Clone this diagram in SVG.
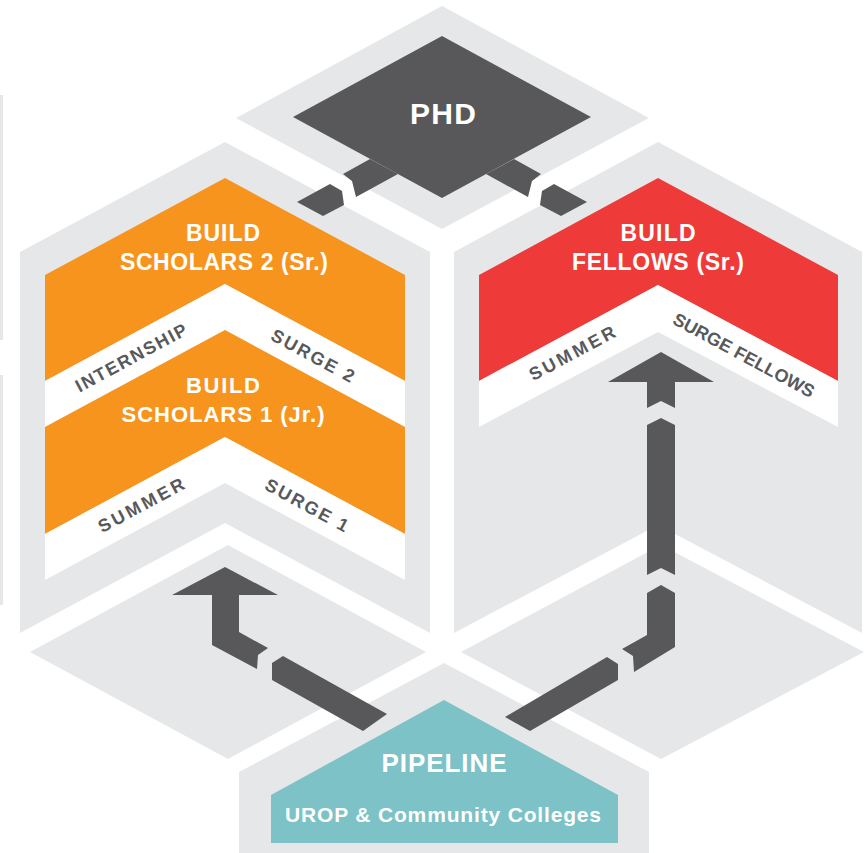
<svg xmlns="http://www.w3.org/2000/svg" width="867" height="853" viewBox="0 0 867 853">
<style>
.lg{fill:#e6e7e8}
.dk{fill:#58585a}
.or{fill:#f7941d}
.rd{fill:#ee3b39}
.tl{fill:#7cc2c7}
.wh{fill:#ffffff}
.ttl{font-family:"Liberation Sans",Arial,sans-serif;font-weight:bold;fill:#ffffff;text-anchor:middle}
.lbl{font-family:"Liberation Sans",Arial,sans-serif;font-weight:bold;fill:#58595b;text-anchor:middle;font-size:18px}
</style>
<rect width="867" height="853" fill="#ffffff"/>
<g id="background">
  <rect class="lg" x="0" y="95" width="3" height="245"/>
  <rect class="lg" x="0" y="375" width="3" height="230"/>
  <polygon class="lg" points="442,6 649,118 442,229 236,118"/>
  <polygon class="lg" points="20,252 225,142 430,252 430,633 225,523 20,633"/>
  <polygon class="lg" points="454,252 658,142 862,252 862,633 658,525 454,633"/>
  <polygon class="lg" points="30,652 228,545 426,652 228,759"/>
  <polygon class="lg" points="461,652 661,545 864,652 661,759"/>
  <polygon class="lg" points="444,663 649,772 649,853 239,853 239,772"/>
</g>
<g id="phd">
  <polygon class="dk" points="442,36 591,117 442,198 293,117"/>
  <text class="ttl" x="443" y="124" font-size="30" textLength="66" lengthAdjust="spacing">PHD</text>
</g>
<g id="build-scholars-2">
  <polygon class="or" points="225,178 405,275 405,381 225,284 45,381 45,275"/>
  <text class="ttl" x="223" y="241" font-size="23" textLength="74" lengthAdjust="spacing">BUILD</text>
  <text class="ttl" x="224" y="270" font-size="23" textLength="208" lengthAdjust="spacing">SCHOLARS 2 (Sr.)</text>
</g>
<g id="internship-surge-2">
  <polygon class="wh" points="225,284 405,381 405,427 225,330 45,427 45,381"/>
  <text class="lbl" transform="translate(131,357.5) rotate(-28.4)" x="0" y="6.5" textLength="124" lengthAdjust="spacing">INTERNSHIP</text>
  <text class="lbl" transform="translate(313,355.5) rotate(28.4)" x="0" y="6.5" textLength="92" lengthAdjust="spacing">SURGE 2</text>
</g>
<g id="build-scholars-1">
  <polygon class="or" points="225,330 405,427 405,534 225,437 45,534 45,427"/>
  <text class="ttl" x="223" y="393" font-size="22" textLength="74" lengthAdjust="spacing">BUILD</text>
  <text class="ttl" x="223" y="422" font-size="22" textLength="203" lengthAdjust="spacing">SCHOLARS 1 (Jr.)</text>
</g>
<g id="summer-surge-1">
  <polygon class="wh" points="225,437 405,534 405,580 225,483 45,580 45,534"/>
  <text class="lbl" transform="translate(141,505) rotate(-28.4)" x="0" y="6.5" textLength="95" lengthAdjust="spacing">SUMMER</text>
  <text class="lbl" transform="translate(307,505) rotate(28.4)" x="0" y="6.5" textLength="92" lengthAdjust="spacing">SURGE 1</text>
</g>
<g id="build-fellows">
  <polygon class="rd" points="658,178 838,275 838,381 658,285 479,381 479,275"/>
  <text class="ttl" x="658" y="241" font-size="23" textLength="75" lengthAdjust="spacing">BUILD</text>
  <text class="ttl" x="658" y="270" font-size="23" textLength="172" lengthAdjust="spacing">FELLOWS (Sr.)</text>
</g>
<g id="summer-surge-fellows">
  <polygon class="wh" points="658,285 838,381 838,427 658,332 479,427 479,381"/>
  <text class="lbl" transform="translate(572,353) rotate(-28.4)" x="0" y="6.5" textLength="95" lengthAdjust="spacing">SUMMER</text>
  <text class="lbl" transform="translate(744,355) rotate(28.4)" x="0" y="6.5" textLength="158" lengthAdjust="spacing">SURGE FELLOWS</text>
</g>
<g id="pipeline">
  <polygon class="tl" points="444,700 618,795 618,843 271,843 271,795"/>
  <text class="ttl" x="444" y="772" font-size="26" textLength="125" lengthAdjust="spacing">PIPELINE</text>
  <text class="ttl" x="443" y="822" font-size="21" textLength="316" lengthAdjust="spacing">UROP &amp; Community Colleges</text>
</g>
<g id="connectors">
  <g id="phd-to-scholars">
    <polygon class="dk" points="370,159 398,174 356,197 352,181 343,174"/>
    <polygon class="dk" points="297,202 330,184 342,191 344,205 323,216"/>
  </g>
  <g id="phd-to-fellows" transform="translate(884,0) scale(-1,1)">
    <polygon class="dk" points="370,159 398,174 356,197 352,181 343,174"/>
    <polygon class="dk" points="297,202 330,184 342,191 344,205 323,216"/>
  </g>
  <g id="pipeline-to-scholars">
    <polygon class="dk" points="225,567 278,595 239,595 239,632 268,648 258,655 257,669 212,645 212,595 172,595"/>
    <polygon class="dk" points="272,663 283,656 387,714 363,731 272,680"/>
  </g>
  <g id="pipeline-to-fellows">
    <polygon class="dk" points="505,717 607,657 618,664 618,680 530,731"/>
    <polygon class="dk" points="647,593 661,585 675,593 675,647 634,672 633,656 622,649 647,635"/>
    <polygon class="dk" points="647,425 661,418 675,425 675,575 661,568 647,575"/>
    <polygon class="dk" points="661,352 714,382 675,382 675,408 661,401 647,408 647,382 608,382"/>
  </g>
</g>
</svg>
